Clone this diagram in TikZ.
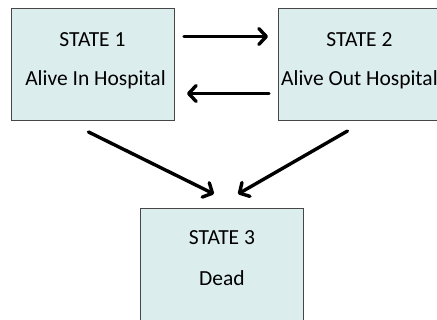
\documentclass[tikz,border=0pt]{standalone}
\usepackage{fontspec}
\setmainfont{Carlito}
\usetikzlibrary{arrows.meta}
\definecolor{boxfill}{RGB}{220,237,238}
\definecolor{boxline}{RGB}{70,70,70}
\tikzset{
  statebox/.style={draw=boxline, line width=1pt, fill=boxfill, minimum width=163pt, minimum height=112pt, inner sep=0pt, anchor=north west},
  lbl/.style={font=\fontsize{21.5}{26}\selectfont, inner sep=0pt, text=black},
  arr/.style={line width=3.4pt, line cap=round, -{Straight Barb[length=7.5pt,width=16pt,line width=3.4pt,round]}}
}
\begin{document}
\begin{tikzpicture}[x=1pt,y=-1pt]
\useasboundingbox (0,0) rectangle (437,320);
\clip (0,0) rectangle (437,320);
\node[statebox] (s1) at (11,8) {};
\node[statebox] (s2) at (278,8) {};
\node[statebox] (s3) at (140,208) {};
\node[lbl] (t1a) at (92.5,40) {STATE 1};
\node[lbl] (t1b) at (95.5,80) {Alive In Hospital};
\node[lbl] (t2a) at (359.5,40) {STATE 2};
\node[lbl, anchor=west] (t2b) at (281,80) {Alive Out Hospital};
\node[lbl] (t3a) at (222,238) {STATE 3};
\node[lbl] (t3b) at (222,278) {Dead};
\draw[arr] ([xshift=9pt,yshift=28pt]s1.east) -- ([xshift=-10pt,yshift=28pt]s2.west);
\draw[arr] ([xshift=-9pt,yshift=-29pt]s2.west) -- ([xshift=12pt,yshift=-29pt]s1.east);
\draw[arr] ([xshift=-4.5pt,yshift=-11pt]s1.south) -- ([xshift=-8pt,yshift=14pt]s3.north);
\draw[arr] ([xshift=-12.5pt,yshift=-10pt]s2.south) -- ([xshift=16pt,yshift=14pt]s3.north);
\end{tikzpicture}
\end{document}
